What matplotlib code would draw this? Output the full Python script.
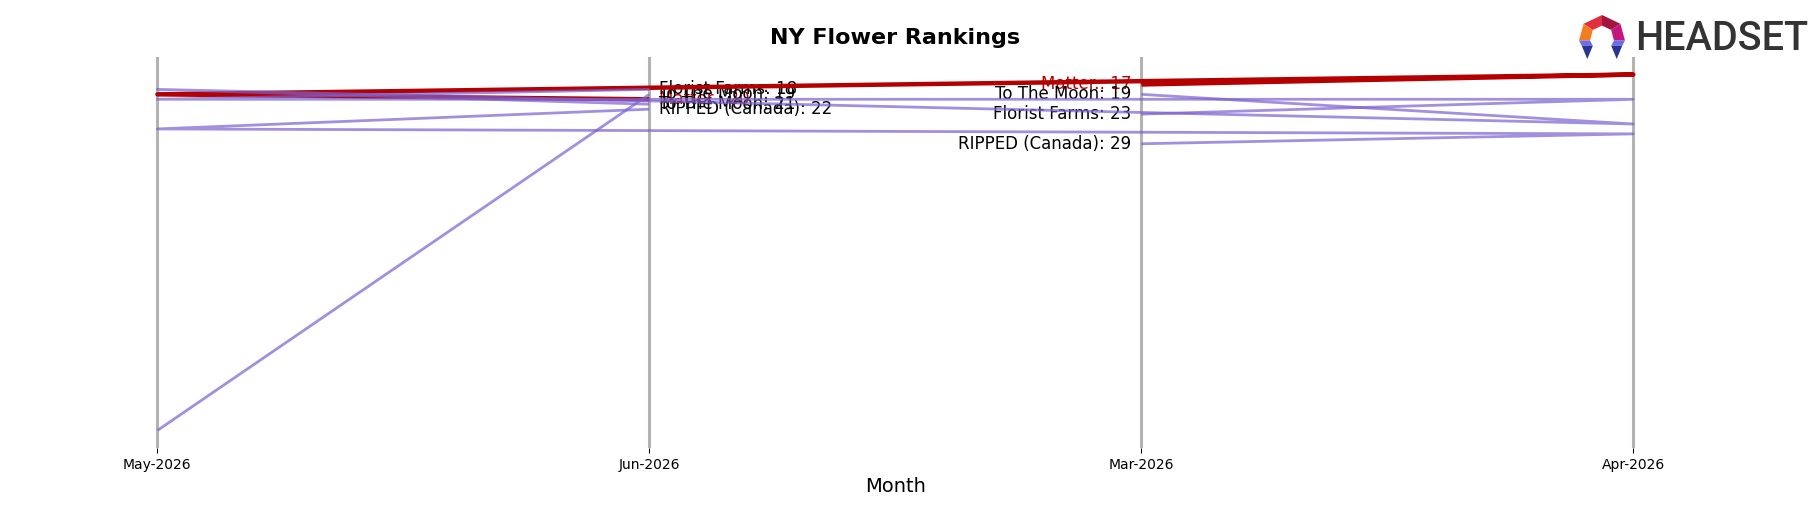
import matplotlib
matplotlib.use("Agg")
import matplotlib.pyplot as plt
from matplotlib.patches import Polygon

# ---- data ----
axis_months = ['May-2026', 'Jun-2026', 'Mar-2026', 'Apr-2026']   # order on the x axis
chron_months = ['Mar-2026', 'Apr-2026', 'May-2026', 'Jun-2026']  # order of points in each line
brands = ['Matter.', 'To The Moon', 'Florist Farms', 'RIPPED (Canada)', 'To The Moon']
matter_ranks = [17, 15, 19, 20]
to_the_moon_ranks = [19, 25, 18, 21]
florist_farms_ranks = [23, 20, 20, 18]
ripped_ranks = [29, 27, 26, 22]
to_the_moon_2_ranks = [None, None, 87, 19]
highlight = 'Matter.'

series = [matter_ranks, to_the_moon_ranks, florist_farms_ranks, ripped_ranks, to_the_moon_2_ranks]

RED = '#b40000'
PURPLE = '#7b61d1'

fig = plt.figure(figsize=(18.18, 5.07), dpi=100)
ax = fig.add_axes([0.046, 0.116, 0.893, 0.772])

def draw(brand, vals, zorder):
    xs, ys = [], []
    for m, v in zip(chron_months, vals):
        if v is not None:
            xs.append(axis_months.index(m))
            ys.append(v)
    is_hl = brand == highlight
    ax.plot(xs, ys, color=RED if is_hl else PURPLE, lw=3.2 if is_hl else 2.0,
            alpha=1.0 if is_hl else 0.7, solid_capstyle='butt', zorder=zorder)
    # labels at first (Mar) and last (Jun) month
    col = RED if is_hl else 'black'
    if vals[0] is not None:
        ax.text(axis_months.index(chron_months[0]) - 0.02, vals[0], f'{brand}: {vals[0]}',
                ha='right', va='center', fontsize=12, color=col, zorder=1.8)
    if vals[-1] is not None:
        ax.text(axis_months.index(chron_months[-1]) + 0.02, vals[-1], f'{brand}: {vals[-1]}',
                ha='left', va='center', fontsize=12, color=col, zorder=1.8)

for b, v in zip(brands, series):
    draw(b, v, 2.0 if b == highlight else 2.2)

ax.set_xticks(range(len(axis_months)))
ax.set_xticklabels(axis_months, fontsize=10)
ax.set_xlim(-0.15, len(axis_months) - 1 + 0.15)
ax.margins(y=0.05)
ax.invert_yaxis()
ax.set_yticks([])
for s in ax.spines.values():
    s.set_visible(False)
ax.grid(axis='x', color='#b3b3b3', lw=2.2)
ax.grid(axis='y', visible=False)
ax.set_title('NY Flower Rankings', fontsize=16, fontweight='bold', pad=9)
ax.set_xlabel('Month', fontsize=14)

# ---- logo ----
fig.text(1635 / 1818, 1 - 39 / 507, 'HEADSET', fontsize=28.5, color='#333333',
         family=['Roboto', 'DejaVu Sans'], ha='left', va='center', fontweight='medium')
lax = fig.add_axes([1579 / 1818, 1 - 59 / 507, 46 / 1818, 44 / 507])
lax.set_xlim(0, 1); lax.set_ylim(0, 1); lax.axis('off')
facets = [
    ([(0.5, 1.0), (0.1, 0.8), (0.3, 0.66), (0.5, 0.76)], '#e0303f'),
    ([(0.5, 1.0), (0.9, 0.8), (0.7, 0.66), (0.5, 0.76)], '#a3153f'),
    ([(0.1, 0.8), (0.0, 0.42), (0.24, 0.42), (0.3, 0.66)], '#f47c20'),
    ([(0.9, 0.8), (1.0, 0.42), (0.76, 0.42), (0.7, 0.66)], '#c4177d'),
    ([(0.0, 0.42), (0.24, 0.42), (0.3, 0.3), (0.06, 0.3)], '#6a6ee8'),
    ([(0.06, 0.3), (0.3, 0.3), (0.18, 0.0)], '#283593'),
    ([(1.0, 0.42), (0.76, 0.42), (0.7, 0.3), (0.94, 0.3)], '#6a6ee8'),
    ([(0.94, 0.3), (0.7, 0.3), (0.82, 0.0)], '#283593'),
]
for pts, c in facets:
    lax.add_patch(Polygon(pts, closed=True, color=c, lw=0))

fig.savefig('out.png', dpi=100)
